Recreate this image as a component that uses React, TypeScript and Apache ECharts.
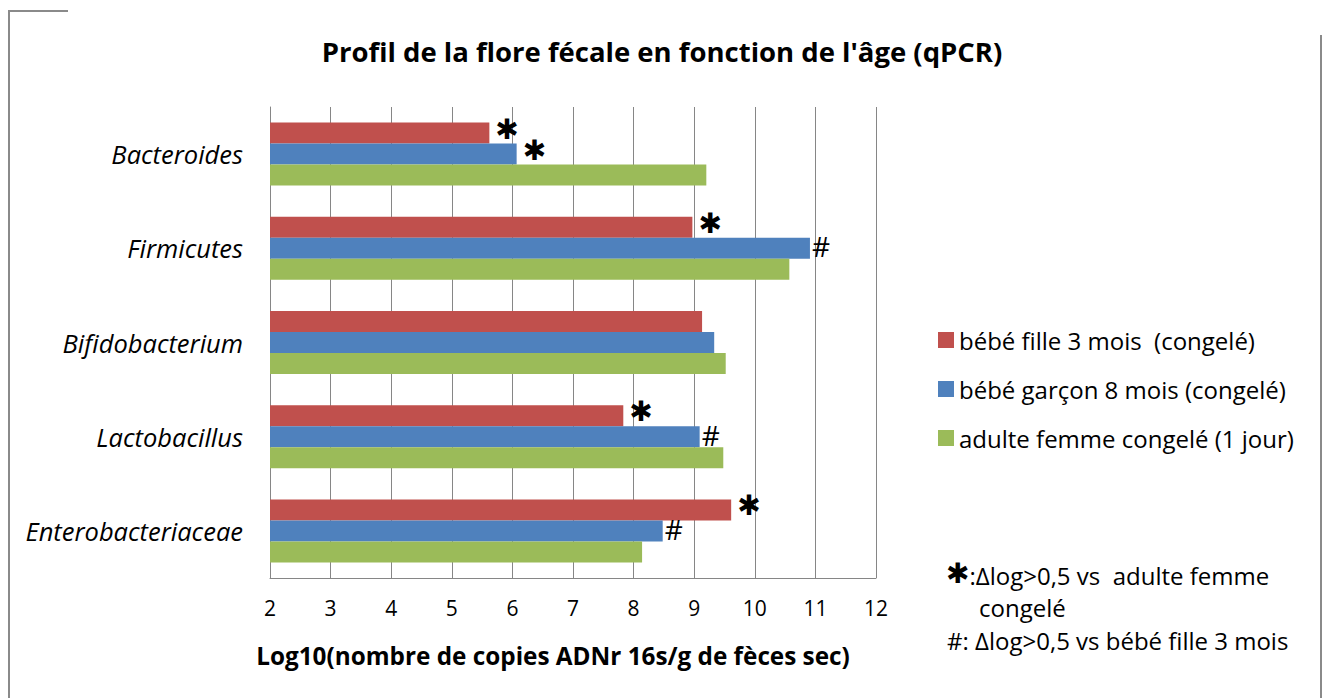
import React, { useEffect, useRef } from "react";
import * as echarts from "echarts";

const categories = ["Bacteroides", "Firmicutes", "Bifidobacterium", "Lactobacillus", "Enterobacteriaceae"];
const seriesNames = ["bébé fille 3 mois  (congelé)", "bébé garçon 8 mois (congelé)", "adulte femme congelé (1 jour)"];
const redValues = [5.62, 8.97, 9.13, 7.83, 9.61];
const blueValues = [6.07, 10.91, 9.33, 9.09, 8.48];
const greenValues = [9.2, 10.57, 9.52, 9.48, 8.14];
const redMarks = ["*", "*", "", "*", "*"];
const blueMarks = ["*", "#", "", "#", "#"];
const greenMarks = ["", "", "", "", ""];
const xTicks = [2, 3, 4, 5, 6, 7, 8, 9, 10, 11, 12];
const titleText = "Profil de la flore fécale en fonction de l'âge (qPCR)";
const axisTitle = "Log10(nombre de copies ADNr 16s/g de fèces sec)";
const note1 = ":Δlog>0,5 vs  adulte femme";
const note1b = "congelé";
const note2 = "#: Δlog>0,5 vs bébé fille 3 mois";

const colors = ["#C0504D", "#4F81BD", "#9BBB59"];
const FONT = "'Open Sans', Lato, sans-serif";
const STARFONT = "'DejaVu Sans', sans-serif";

export default function App() {
  const ref = useRef<HTMLDivElement>(null);
  useEffect(() => {
    if (!ref.current) return;
    const chart = echarts.init(ref.current, null, { renderer: "svg" });
    const mk = (name: string, values: number[], marks: string[], color: string) => ({
      name,
      type: "bar",
      barWidth: 21,
      barGap: "0%",
      itemStyle: { color },
      data: values,
      label: {
        show: true,
        position: "right",
        distance: 2,
        formatter: (p: any) => {
          const m = marks[p.dataIndex];
          if (m === "*") return "{s|✱}";
          if (m === "#") return "{h|#}";
          return "";
        },
        rich: {
          s: { fontFamily: STARFONT, fontSize: 28, fontWeight: "bold", color: "#000", padding: [0, 0, 8, 4] },
          h: { fontFamily: FONT, fontSize: 28, color: "#000", padding: [0, 0, 4, 0] },
        },
      },
    });
    chart.setOption({
      animation: false,
      backgroundColor: "#ffffff",
      textStyle: { fontFamily: FONT },
      title: {
        text: titleText,
        left: "center",
        top: 32,
        textStyle: { fontFamily: FONT, fontSize: 27.5, fontWeight: "bold", color: "#000" },
      },
      legend: {
        orient: "vertical",
        left: 933,
        top: 323,
        itemWidth: 16,
        itemHeight: 16,
        itemGap: 25,
        icon: "rect",
        data: seriesNames,
        textStyle: { fontFamily: FONT, fontSize: 24, color: "#000", lineHeight: 24 },
      },
      grid: { left: 270, right: 448, top: 107, bottom: 120, containLabel: false },
      xAxis: {
        type: "value",
        min: xTicks[0],
        max: xTicks[xTicks.length - 1],
        interval: 1,
        axisLine: { show: true, lineStyle: { color: "#868686", width: 1 } },
        axisTick: { show: false },
        splitLine: { show: true, lineStyle: { color: "#868686", width: 1 } },
        axisLabel: { fontFamily: FONT, fontSize: 21, color: "#000", margin: 19 },
      },
      yAxis: {
        type: "category",
        data: categories,
        inverse: true,
        axisLine: { show: true, lineStyle: { color: "#868686", width: 1 } },
        axisTick: { show: false },
        axisLabel: { fontFamily: FONT, fontSize: 25.5, fontStyle: "italic", color: "#000", margin: 27 },
      },
      series: [
        mk(seriesNames[0], redValues, redMarks, colors[0]),
        mk(seriesNames[1], blueValues, blueMarks, colors[1]),
        mk(seriesNames[2], greenValues, greenMarks, colors[2]),
      ],
      graphic: [
        { type: "line", shape: { x1: 8, y1: 11, x2: 68, y2: 11 }, style: { stroke: "#8a8a8a", lineWidth: 2 } },
        { type: "line", shape: { x1: 9, y1: 10, x2: 9, y2: 698 }, style: { stroke: "#8a8a8a", lineWidth: 2 } },
        { type: "line", shape: { x1: 1321, y1: 35, x2: 1321, y2: 698 }, style: { stroke: "#8a8a8a", lineWidth: 2 } },
        {
          type: "text",
          x: 553,
          y: 655,
          style: {
            text: axisTitle,
            fontFamily: FONT,
            fontSize: 24.3,
            fontWeight: "bold",
            fill: "#000",
            align: "center",
            verticalAlign: "middle",
          },
        },
        {
          type: "text",
          x: 946,
          y: 575,
          style: {
            text: "{s|✱}" + note1,
            fontFamily: FONT,
            fontSize: 24,
            fill: "#000",
            verticalAlign: "middle",
            rich: { s: { fontFamily: STARFONT, fontSize: 28, fontWeight: "bold", fill: "#000", padding: [0, 0, 4, 0] } },
          },
        },
        {
          type: "text",
          x: 979,
          y: 607,
          style: { text: note1b, fontFamily: FONT, fontSize: 24, fill: "#000", verticalAlign: "middle" },
        },
        {
          type: "text",
          x: 947,
          y: 640,
          style: { text: note2, fontFamily: FONT, fontSize: 24, fill: "#000", verticalAlign: "middle" },
        },
      ],
    });
    return () => chart.dispose();
  }, []);
  return (
    <div
      ref={ref}
      style={{ position: "fixed", left: 0, top: 0, width: 1324, height: 698, background: "#fff" }}
    />
  );
}
